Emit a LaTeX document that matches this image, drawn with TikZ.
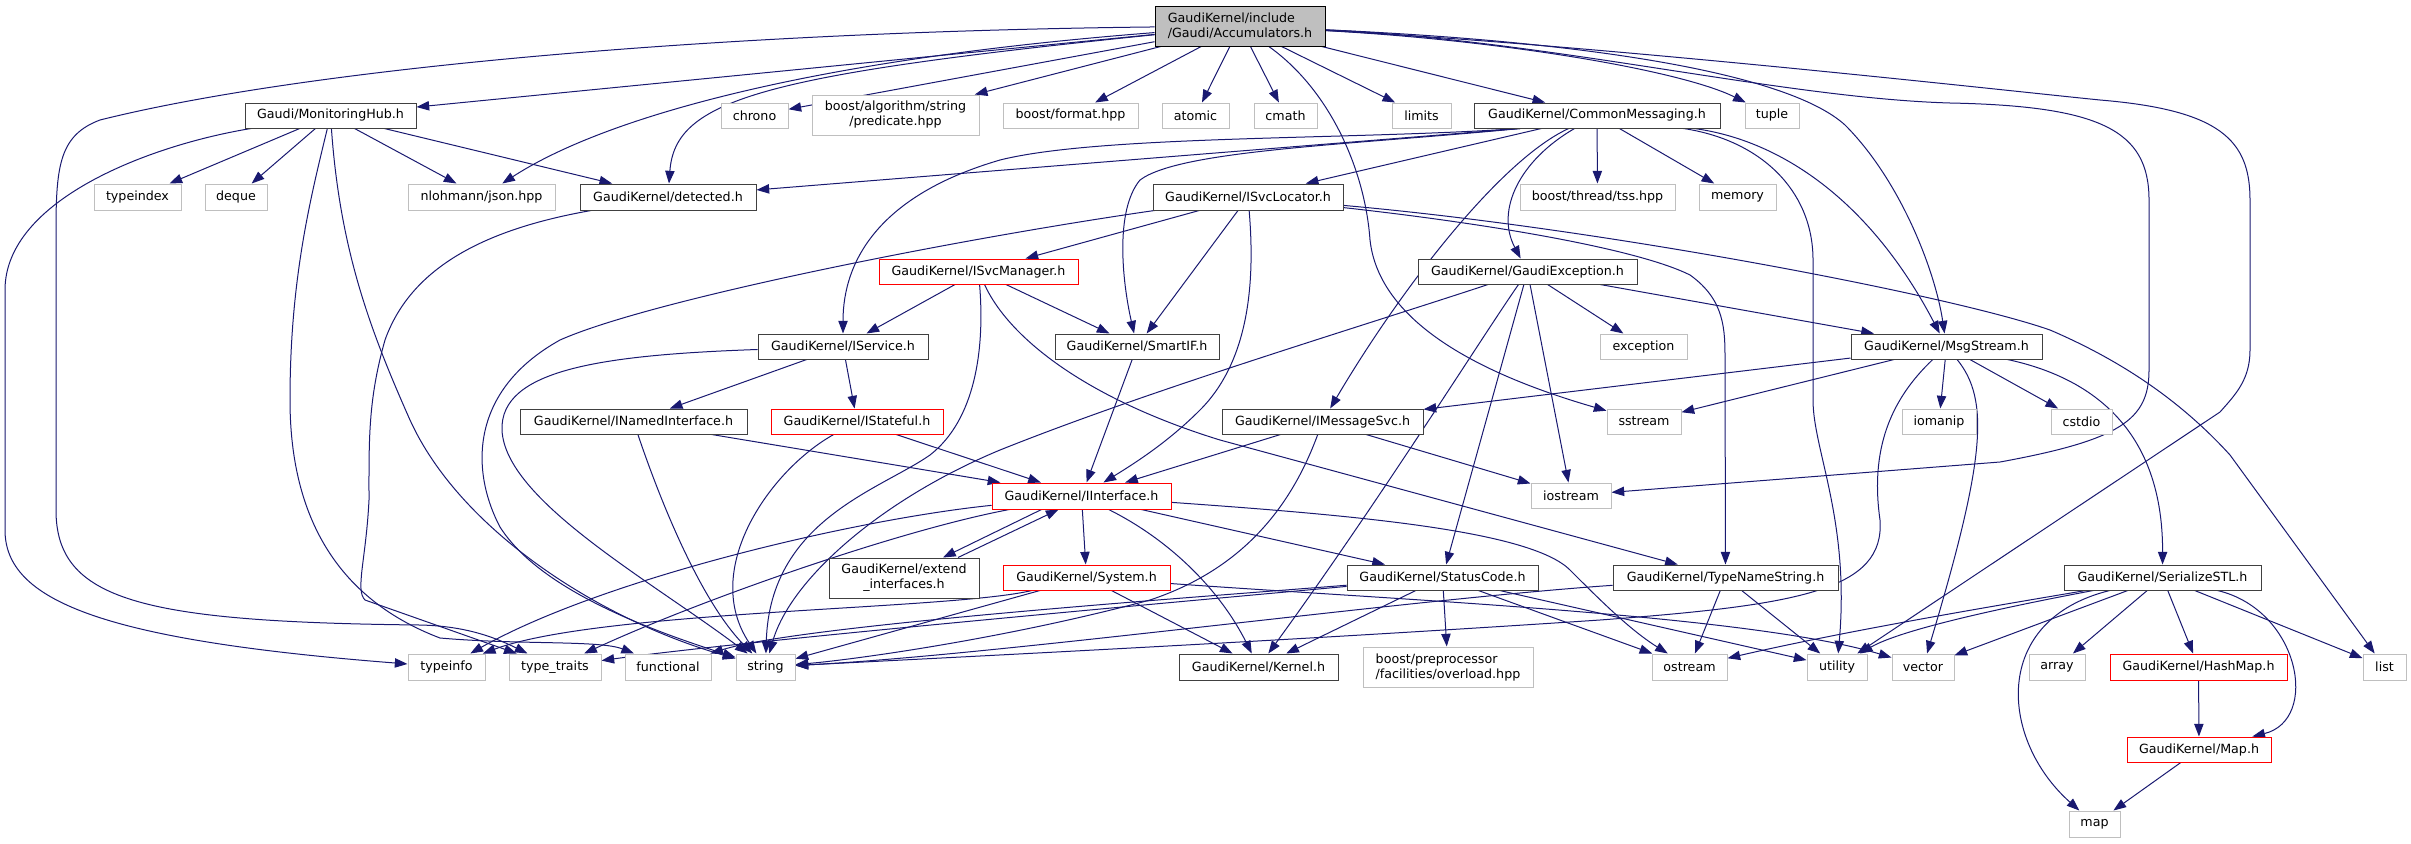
\documentclass[tikz,border=0pt]{standalone}
\usepackage{fontspec}
\setmainfont{DejaVu Sans}
\usetikzlibrary{arrows.meta,calc}
\pgfdeclarelayer{bg}
\pgfsetlayers{bg,main}
\definecolor{edgec}{RGB}{25,25,112}
\definecolor{docb}{RGB}{64,64,64}
\definecolor{extb}{RGB}{191,191,191}
\definecolor{rootf}{RGB}{191,191,191}
\begin{document}
\begin{tikzpicture}[x=0.75pt,y=-0.75pt,
  base/.style={rectangle, inner sep=0pt, line width=0.75pt, font=\fontsize{9.5}{11.25}\selectfont, text=black, fill=white},
  doc/.style={base, draw=docb},
  ext/.style={base, draw=extb},
  trunc/.style={base, draw=red},
  rootn/.style={base, draw=black, fill=rootf},
  sz/.style 2 args={minimum width=#1*0.75pt, minimum height=#2*0.75pt},
  lnk/.style={draw=edgec, line width=0.75pt, -{Triangle[length=9.5pt,width=7pt,fill=edgec]}}]
\useasboundingbox (0,0) rectangle (2411,843);
\node[rootn, sz={170}{40}, align=left] (root) at (1240,26) {GaudiKernel/include\\/Gaudi/Accumulators.h};
\node[doc, sz={171}{25}] (mh) at (330.5,115.5) {Gaudi/MonitoringHub.h};
\node[ext, sz={67}{25}] (chrono) at (754.5,115.5) {chrono};
\node[ext, sz={167}{40}, align=center] (pred) at (895.5,115) {boost/algorithm/string\\/predicate.hpp};
\node[ext, sz={135}{25}] (fmt) at (1070.5,115.5) {boost/format.hpp};
\node[ext, sz={67}{25}] (atomic) at (1195.5,115.5) {atomic};
\node[ext, sz={63}{25}] (cmath) at (1285.5,115.5) {cmath};
\node[ext, sz={59}{25}] (limits) at (1421.5,115.5) {limits};
\node[doc, sz={246}{25}] (cm) at (1597,115.5) {GaudiKernel/CommonMessaging.h};
\node[ext, sz={54}{25}] (tuple) at (1772,115.5) {tuple};
\node[ext, sz={87}{26}] (typeindex) at (137.5,197) {typeindex};
\node[ext, sz={62}{26}] (deque) at (236,197) {deque};
\node[ext, sz={147}{26}] (json) at (481.5,197) {nlohmann/json.hpp};
\node[doc, sz={176}{26}] (det) at (668,197) {GaudiKernel/detected.h};
\node[doc, sz={190}{26}] (svcloc) at (1248,197) {GaudiKernel/ISvcLocator.h};
\node[ext, sz={155}{26}] (tss) at (1597.5,197) {boost/thread/tss.hpp};
\node[ext, sz={77}{26}] (memory) at (1737.5,197) {memory};
\node[trunc, sz={199}{25}] (svcman) at (978.5,271.5) {GaudiKernel/ISvcManager.h};
\node[doc, sz={219}{25}] (gexc) at (1527.5,271.5) {GaudiKernel/GaudiException.h};
\node[doc, sz={170}{25}] (isvc) at (843,346.5) {GaudiKernel/IService.h};
\node[doc, sz={164}{25}] (smartif) at (1137,346.5) {GaudiKernel/SmartIF.h};
\node[ext, sz={87}{25}] (exception) at (1643.5,346.5) {exception};
\node[doc, sz={191}{25}] (msgs) at (1946.5,346.5) {GaudiKernel/MsgStream.h};
\node[doc, sz={227}{25}] (named) at (633.5,421.5) {GaudiKernel/INamedInterface.h};
\node[trunc, sz={172}{25}] (stateful) at (857,421.5) {GaudiKernel/IStateful.h};
\node[doc, sz={201}{25}] (msgsvc) at (1322.5,421.5) {GaudiKernel/IMessageSvc.h};
\node[ext, sz={74}{25}] (sstream) at (1644,421.5) {sstream};
\node[ext, sz={74}{25}] (iomanip) at (1939,421.5) {iomanip};
\node[ext, sz={61}{25}] (cstdio) at (2081.5,421.5) {cstdio};
\node[trunc, sz={179}{26}] (iif) at (1081.5,496) {GaudiKernel/IInterface.h};
\node[ext, sz={80}{25}] (iostream) at (1571,495.5) {iostream};
\node[doc, sz={150}{40}, align=center] (extend) at (904,578) {GaudiKernel/extend\\\_interfaces.h};
\node[trunc, sz={167}{25}] (system) at (1086.5,577.5) {GaudiKernel/System.h};
\node[doc, sz={191}{25}] (status) at (1442.5,577.5) {GaudiKernel/StatusCode.h};
\node[doc, sz={225}{25}] (tns) at (1725.5,577.5) {GaudiKernel/TypeNameString.h};
\node[doc, sz={197}{25}] (stl) at (2162.5,577.5) {GaudiKernel/SerializeSTL.h};
\node[ext, sz={77}{26}] (typeinfo) at (446.5,667) {typeinfo};
\node[ext, sz={92}{26}] (typetraits) at (555,667) {type\_traits};
\node[ext, sz={86}{26}] (functional) at (668,667) {functional};
\node[ext, sz={59}{26}] (string) at (765.5,667) {string};
\node[doc, sz={159}{26}] (kernel) at (1258.5,667) {GaudiKernel/Kernel.h};
\node[ext, sz={170}{40}, align=left] (pp) at (1448,667) {boost/preprocessor\\/facilities/overload.hpp};
\node[ext, sz={75}{26}] (ostream) at (1689.5,667) {ostream};
\node[ext, sz={60}{26}] (utility) at (1837,667) {utility};
\node[ext, sz={62}{26}] (vector) at (1923,667) {vector};
\node[ext, sz={56}{26}] (array) at (2057,667) {array};
\node[trunc, sz={177}{26}] (hashmap) at (2198.5,667) {GaudiKernel/HashMap.h};
\node[ext, sz={43}{26}] (list) at (2384.5,667) {list};
\node[trunc, sz={144}{25}] (maph) at (2199,749.5) {GaudiKernel/Map.h};
\node[ext, sz={51}{26}] (map) at (2094.5,824) {map};
\begin{pgfonlayer}{bg}
% root
\draw[lnk] (root) -- (mh);
\draw[lnk] (root) .. controls (800,60) and (600,120) .. (json);
\draw[lnk] (root) .. controls (760,75) and (675,100) .. (det);
\draw[lnk] (root) .. controls (700,32) and (300,70) .. (100,120) .. controls (60,135) and (56,165) .. (56,230) -- (56,510) .. controls (56,600) and (140,622) .. (420,625) .. controls (470,626) and (500,640) .. (typetraits);
\draw[lnk] (root) -- (chrono);
\draw[lnk] (root) -- (pred);
\draw[lnk] (root) -- (fmt);
\draw[lnk] (root) -- (atomic);
\draw[lnk] (root) -- (cmath);
\draw[lnk] (root) .. controls (1330,90) and (1365,170) .. (1370,240) .. controls (1380,330) and (1500,380) .. (sstream);
\draw[lnk] (root) -- (limits);
\draw[lnk] (root) -- (cm);
\draw[lnk] (root) .. controls (1500,40) and (1680,70) .. (tuple);
\draw[lnk] (root) .. controls (1600,42) and (1790,75) .. (1845,125) .. controls (1900,180) and (1935,270) .. (msgs);
\draw[lnk] (root) .. controls (1550,40) and (1780,98) .. (1950,103) .. controls (2100,106) and (2149,130) .. (2149,200) -- (2149,370) .. controls (2149,420) and (2120,440) .. (2000,462) -- (iostream);
\draw[lnk] (root) .. controls (1600,45) and (2000,90) .. (2100,100) .. controls (2220,110) and (2250,140) .. (2250,200) -- (2250,350) .. controls (2250,380) and (2235,395) .. (2220,412) -- (utility);
% monitoring hub
\draw[lnk] (mh) .. controls (150,145) and (5,200) .. (5,290) -- (5,530) .. controls (5,600) and (100,640) .. (typeinfo);
\draw[lnk] (mh) -- (typeindex);
\draw[lnk] (mh) -- (deque);
\draw[lnk] (mh) .. controls (310,200) and (290,280) .. (290,400) .. controls (290,520) and (340,600) .. (440,638) .. controls (520,645) and (600,640) .. (functional);
\draw[lnk] (mh) .. controls (340,250) and (370,330) .. (410,420) .. controls (460,530) and (600,620) .. (string);
\draw[lnk] (mh) -- (json);
\draw[lnk] (mh) -- (det);
% common messaging
\draw[lnk] ($(cm.south)+(-77,0)$) -- (det);
\draw[lnk] ($(cm.south)+(-77,0)$) .. controls (1350,140) and (1100,135) .. (1000,160) .. controls (880,195) and (843,260) .. (isvc);
\draw[lnk] ($(cm.south)+(-77,0)$) .. controls (1350,145) and (1180,150) .. (1140,180) .. controls (1115,210) and (1122,280) .. (smartif);
\draw[lnk] (cm) -- (svcloc);
\draw[lnk] (cm) .. controls (1500,160) and (1400,290) .. (msgsvc);
\draw[lnk] (cm) .. controls (1520,160) and (1495,210) .. (gexc);
\draw[lnk] (cm) -- (tss);
\draw[lnk] (cm) -- (memory);
\draw[lnk] (cm) .. controls (1780,140) and (1870,200) .. (msgs);
\draw[lnk] (cm) .. controls (1760,140) and (1813,190) .. (1813,260) -- (1813,400) .. controls (1813,450) and (1850,520) .. (utility);
% detected
\draw[lnk] (det) .. controls (480,230) and (410,270) .. (385,340) .. controls (368,400) and (369,440) .. (369,500) .. controls (366,560) and (355,590) .. (365,600) -- (typetraits);
% svc locator
\draw[lnk] (svcloc) -- (svcman);
\draw[lnk] (svcloc) -- (smartif);
\draw[lnk] (svcloc) .. controls (1255,280) and (1250,360) .. (1200,410) .. controls (1170,440) and (1140,460) .. (iif);
\draw[lnk] (svcloc) .. controls (950,240) and (650,300) .. (560,340) .. controls (470,390) and (470,470) .. (500,527) .. controls (540,590) and (650,630) .. (string);
\draw[lnk] (svcloc) .. controls (1500,225) and (1640,250) .. (1690,275) .. controls (1725,300) and (1725,330) .. (1725,360) -- (tns);
\draw[lnk] (svcloc) .. controls (1600,228) and (1950,295) .. (2050,330) .. controls (2120,360) and (2180,400) .. (2230,455) -- (list);
% svc manager
\draw[lnk] (svcman) -- (isvc);
\draw[lnk] (svcman) -- (smartif);
\draw[lnk] (svcman) .. controls (985,350) and (975,420) .. (930,455) .. controls (880,490) and (770,520) .. (string);
\draw[lnk] (svcman) .. controls (1010,340) and (1090,400) .. (1220,440) -- (tns);
% iservice
\draw[lnk] (isvc) -- (named);
\draw[lnk] (isvc) -- (stateful);
\draw[lnk] (isvc) .. controls (600,355) and (500,370) .. (502,430) .. controls (505,500) and (650,580) .. (string);
% named, stateful, smartif
\draw[lnk] (named) -- (iif);
\draw[lnk] (named) .. controls (660,500) and (700,600) .. (string);
\draw[lnk] (stateful) -- (iif);
\draw[lnk] (stateful) .. controls (770,470) and (700,570) .. (string);
\draw[lnk] (smartif) -- (iif);
% gaudi exception
\draw[lnk] (gexc) .. controls (1350,330) and (1150,390) .. (1000,450) .. controls (880,500) and (790,580) .. (string);
\draw[lnk] (gexc) -- (msgs);
\draw[lnk] (gexc) -- (exception);
\draw[lnk] (gexc) -- (iostream);
\draw[lnk] (gexc) .. controls (1480,340) and (1380,500) .. (kernel);
\draw[lnk] (gexc) -- (status);
% message svc
\draw[lnk] (msgsvc) -- (iif);
\draw[lnk] (msgsvc) -- (iostream);
\draw[lnk] (msgsvc) .. controls (1290,510) and (1240,570) .. (1150,600) .. controls (1000,640) and (850,660) .. (string);
% msg stream
\draw[lnk] (msgs) -- (msgsvc);
\draw[lnk] (msgs) -- (sstream);
\draw[lnk] (msgs) -- (iomanip);
\draw[lnk] (msgs) -- (cstdio);
\draw[lnk] (msgs) .. controls (1990,400) and (1985,460) .. (vector);
\draw[lnk] (msgs) .. controls (2080,375) and (2163,420) .. (stl);
\draw[lnk] (msgs) .. controls (1890,400) and (1870,450) .. (1880,520) .. controls (1885,590) and (1800,605) .. (1600,620) .. controls (1300,640) and (1000,655) .. (string);
% iinterface
\draw[lnk] (iif) .. controls (850,520) and (600,580) .. (typeinfo);
\draw[lnk] (iif) .. controls (900,530) and (700,600) .. (typetraits);
\draw[lnk] ($(iif.south)+(-40,0)$) -- ($(extend.north)+(39,0)$);
\draw[lnk] ($(extend.north)+(54,0)$) -- ($(iif.south)+(-23,0)$);
\draw[lnk] (iif) -- (system);
\draw[lnk] (iif) .. controls (1170,540) and (1220,590) .. (kernel);
\draw[lnk] (iif) -- (status);
\draw[lnk] (iif) .. controls (1350,515) and (1530,530) .. (1570,570) .. controls (1600,600) and (1630,630) .. (ostream);
% system
\draw[lnk] (system) -- (string);
\draw[lnk] (system) .. controls (950,610) and (600,610) .. (typeinfo);
\draw[lnk] (system) -- (kernel);
\draw[lnk] (system) .. controls (1400,600) and (1750,615) .. (vector);
% status code
\draw[lnk] (status) .. controls (1200,597) and (800,625) .. (functional);
\draw[lnk] (status) .. controls (1200,600) and (750,640) .. (typetraits);
\draw[lnk] (status) -- (kernel);
\draw[lnk] (status) -- (pp);
\draw[lnk] (status) -- (ostream);
\draw[lnk] (status) -- (utility);
% type name string
\draw[lnk] (tns) .. controls (1400,600) and (1000,655) .. (string);
\draw[lnk] (tns) -- (ostream);
\draw[lnk] (tns) -- (utility);
% serialize stl
\draw[lnk] (stl) .. controls (2000,605) and (1850,630) .. (ostream);
\draw[lnk] (stl) .. controls (2000,608) and (1900,630) .. (utility);
\draw[lnk] (stl) -- (vector);
\draw[lnk] (stl) -- (array);
\draw[lnk] (stl) -- (hashmap);
\draw[lnk] (stl) -- (list);
\draw[lnk] (stl) .. controls (2300,610) and (2320,720) .. (maph);
\draw[lnk] (stl) .. controls (1990,620) and (2000,740) .. (map);
\draw[lnk] (hashmap) -- (maph);
\draw[lnk] (maph) -- (map);
\end{pgfonlayer}
\end{tikzpicture}
\end{document}
